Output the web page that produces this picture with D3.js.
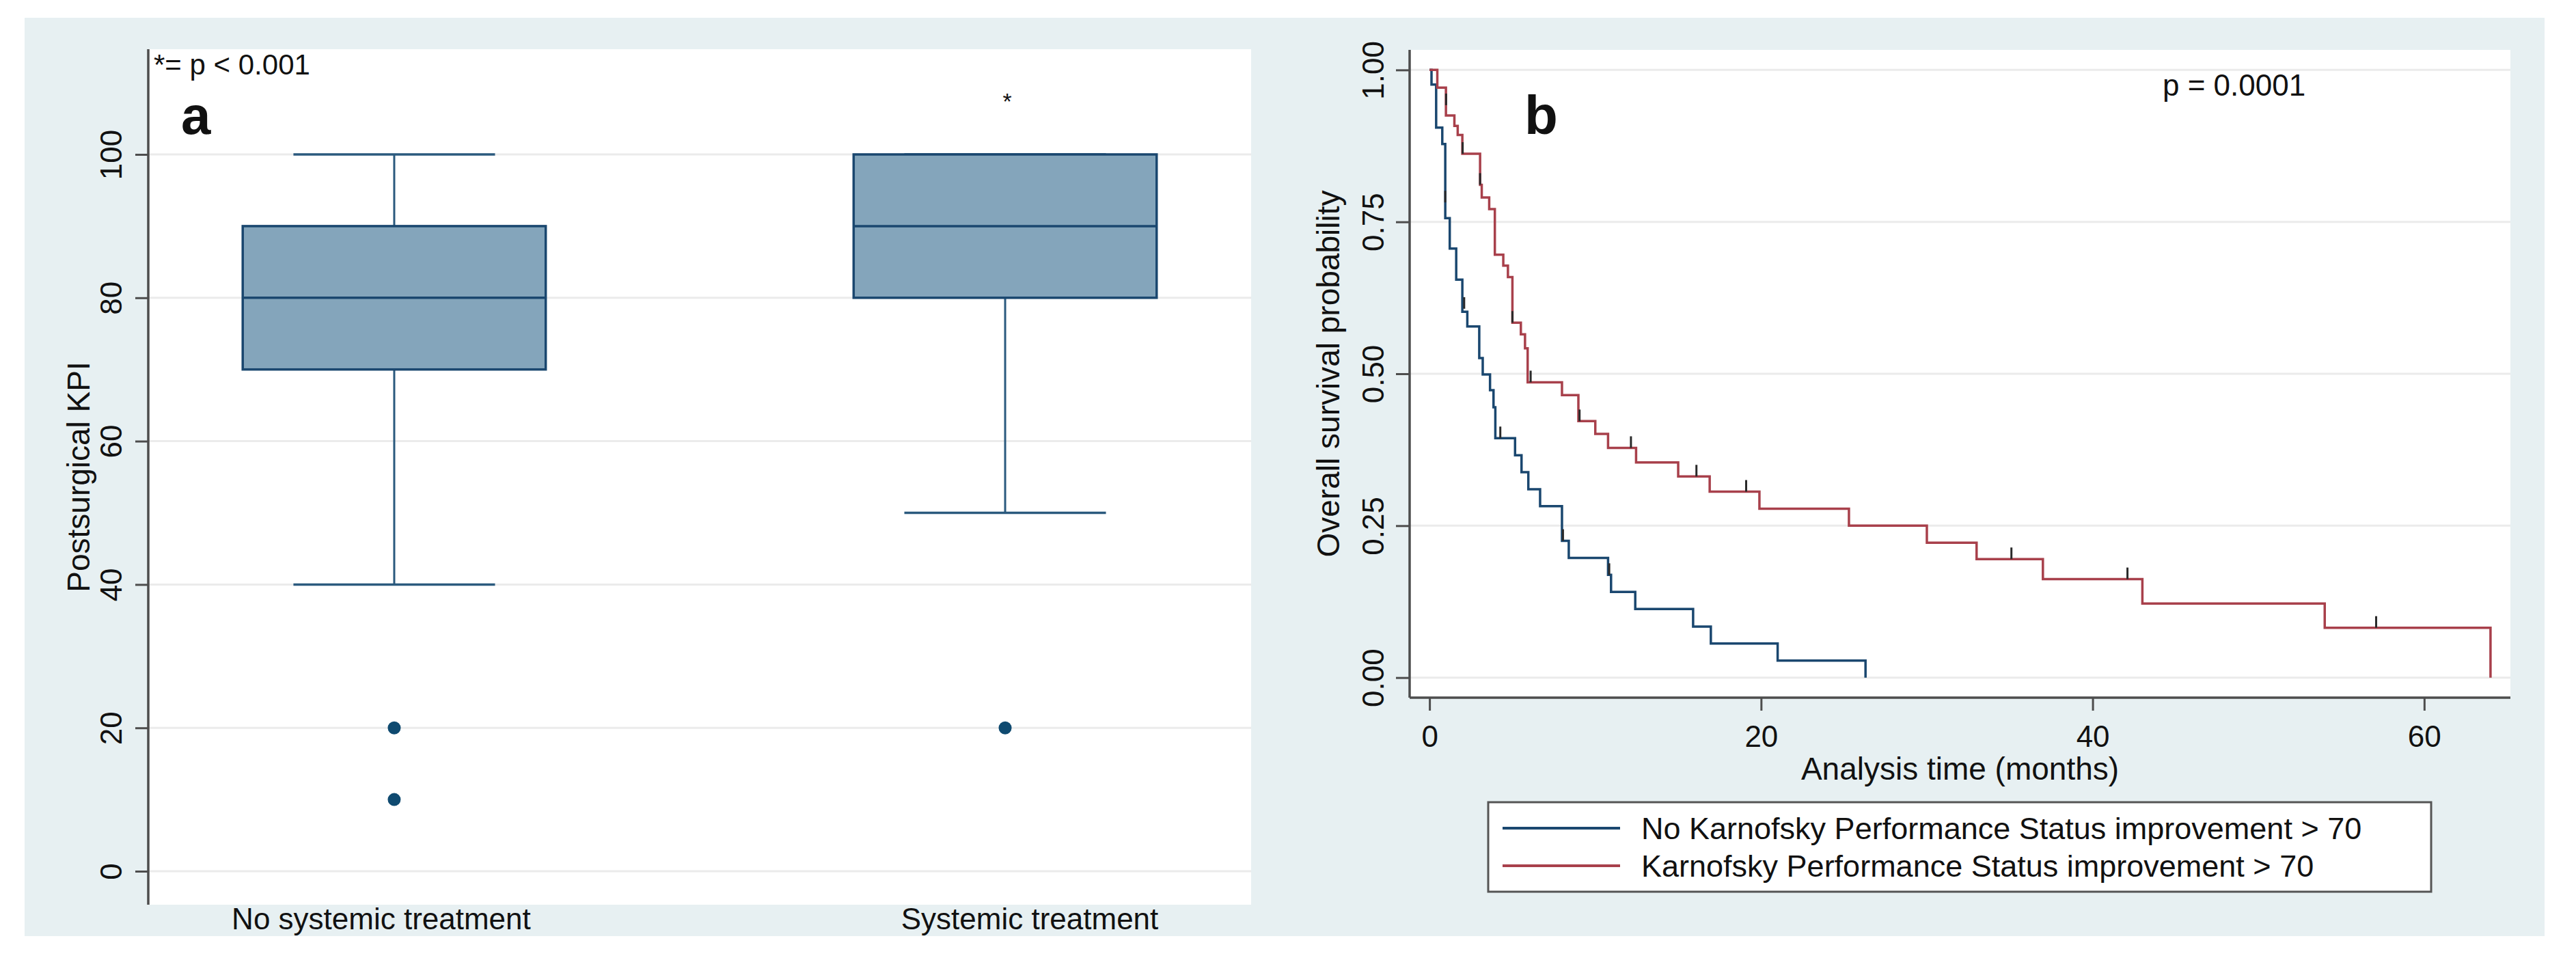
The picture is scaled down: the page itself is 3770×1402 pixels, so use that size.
<!DOCTYPE html>
<html>
<head>
<meta charset="utf-8">
<script src="https://cdnjs.cloudflare.com/ajax/libs/d3/7.8.5/d3.min.js"></script>
<style>
  body { margin: 0; background: #fff; }
  text { font-family: "Liberation Sans", Arial, sans-serif; fill: #111; }
</style>
</head>
<body>
<script>
// ---- panel a: postsurgical KPI box plot ----
const groups = ['No systemic treatment', 'Systemic treatment'];
const whiskerLow = [40, 50];
const quart1 = [70, 80];
const medians = [80, 90];
const quart3 = [90, 100];
const whiskerHigh = [100, 100];
const outliers = [[20, 10], [20]];
const kpiTicks = [0, 20, 40, 60, 80, 100];
const starAt = 108; // significance star above systemic treatment

// ---- panel b: Kaplan-Meier curves ----
const seriesNames = [
  'No Karnofsky Performance Status improvement > 70',
  'Karnofsky Performance Status improvement > 70'
];
const noImpTime = [0, 0.12, 0.4, 0.77, 0.95, 1.22, 1.61, 1.98, 2.28, 3.0, 3.21, 3.65, 3.86, 3.97,
  5.16, 5.55, 5.96, 6.67, 7.99, 8.4, 10.77, 10.95, 12.41, 15.9, 16.97, 21.0, 26.3];
const noImpSurv = [1, 0.976, 0.905, 0.878, 0.756, 0.706, 0.655, 0.602, 0.578, 0.526, 0.499, 0.473, 0.445, 0.394,
  0.366, 0.338, 0.31, 0.282, 0.225, 0.197, 0.169, 0.141, 0.113, 0.084, 0.056, 0.028, 0];
const noImpCensT = [0.95, 2.09, 4.27, 8.05, 10.84];
const noImpCensS = [0.782, 0.607, 0.394, 0.225, 0.169];

const impTime = [0, 0.47, 0.99, 1.5, 1.7, 1.98, 3.05, 3.15, 3.6, 3.94, 4.45, 4.73, 5.0, 5.51, 5.76, 5.92,
  7.99, 8.98, 10.0, 10.77, 12.46, 15.0, 16.9, 19.9, 25.3, 30.0, 33.0, 37.0, 43.0, 54.0, 64.0];
const impSurv = [1, 0.971, 0.925, 0.908, 0.893, 0.862, 0.811, 0.79, 0.771, 0.696, 0.678, 0.659, 0.584, 0.565, 0.542, 0.486,
  0.465, 0.422, 0.401, 0.378, 0.354, 0.331, 0.306, 0.278, 0.25, 0.222, 0.195, 0.162, 0.122, 0.082, 0];
const impCensT = [1.0, 2.0, 3.05, 5.0, 6.1, 9.05, 12.15, 16.1, 19.1, 35.1, 42.1, 57.1];
const impCensS = [0.942, 0.862, 0.811, 0.584, 0.486, 0.422, 0.378, 0.331, 0.306, 0.195, 0.162, 0.082];

const survTicks = [0, 0.25, 0.5, 0.75, 1];
const monthTicks = [0, 20, 40, 60];

const navy = '#1a476f';
const maroon = '#a8404b';
const axisGrey = '#4d4d4d';
const gridGrey = '#ebebeb';

const svg = d3.select('body').append('svg')
  .attr('width', 3770)
  .attr('height', 1402);

svg.append('rect')
  .attr('x', 36).attr('y', 26)
  .attr('width', 3724 - 36).attr('height', 1370 - 26)
  .attr('fill', '#e7f0f2');

// rotate y tick labels the Stata way
function styleLeftAxis(g, dist, fontSize) {
  g.select('.domain').remove();
  g.selectAll('.tick line').attr('stroke', axisGrey).attr('stroke-width', 3);
  g.selectAll('.tick text')
    .attr('transform', 'rotate(-90)')
    .attr('x', 0).attr('y', -dist).attr('dy', 0)
    .attr('text-anchor', 'middle')
    .style('font-size', fontSize + 'px')
    .style('fill', '#111');
}

function drawBoxPanel() {
  const left = 217, right = 1831, top = 72, bottom = 1324;
  const y = d3.scaleLinear().domain([-4.67, 114.68]).range([bottom, top]);
  const x = d3.scalePoint().domain(groups).range([left, right]).padding(0.4026);
  const step = x.step();
  const boxW = step * 0.496;
  const capW = step * 0.33;

  svg.append('rect')
    .attr('x', left).attr('y', top)
    .attr('width', right - left).attr('height', bottom - top)
    .attr('fill', '#fff');

  svg.append('g').selectAll('line')
    .data(kpiTicks)
    .enter()
    .append('line')
    .attr('x1', left).attr('x2', right)
    .attr('y1', d => y(d)).attr('y2', d => y(d))
    .attr('stroke', gridGrey).attr('stroke-width', 3);

  const yAxis = svg.append('g')
    .attr('transform', `translate(${left},0)`)
    .call(d3.axisLeft(y).tickValues(kpiTicks).tickSize(19).tickPadding(0));
  styleLeftAxis(yAxis, 39, 44);

  svg.append('line')
    .attr('x1', left).attr('x2', left)
    .attr('y1', top).attr('y2', bottom)
    .attr('stroke', axisGrey).attr('stroke-width', 3.5);

  const boxes = groups.map((g, i) => ({
    g, lo: whiskerLow[i], q1: quart1[i], med: medians[i], q3: quart3[i], hi: whiskerHigh[i], out: outliers[i]
  }));

  const bg = svg.append('g').selectAll('g')
    .data(boxes)
    .enter()
    .append('g')
    .attr('transform', d => `translate(${x(d.g)},0)`);

  // whiskers
  bg.append('line')
    .attr('x1', 0).attr('x2', 0)
    .attr('y1', d => y(d.q3)).attr('y2', d => y(d.hi))
    .attr('stroke', '#2b5a7e').attr('stroke-width', 3);
  bg.append('line')
    .attr('x1', 0).attr('x2', 0)
    .attr('y1', d => y(d.q1)).attr('y2', d => y(d.lo))
    .attr('stroke', '#2b5a7e').attr('stroke-width', 3);
  bg.append('line')
    .attr('x1', -capW / 2).attr('x2', capW / 2)
    .attr('y1', d => y(d.hi)).attr('y2', d => y(d.hi))
    .attr('stroke', '#2b5a7e').attr('stroke-width', 3.5);
  bg.append('line')
    .attr('x1', -capW / 2).attr('x2', capW / 2)
    .attr('y1', d => y(d.lo)).attr('y2', d => y(d.lo))
    .attr('stroke', '#2b5a7e').attr('stroke-width', 3.5);

  bg.append('rect')
    .attr('x', -boxW / 2).attr('width', boxW)
    .attr('y', d => y(d.q3)).attr('height', d => y(d.q1) - y(d.q3))
    .attr('fill', '#84a5bb').attr('stroke', navy).attr('stroke-width', 3.5);
  bg.append('line')
    .attr('x1', -boxW / 2).attr('x2', boxW / 2)
    .attr('y1', d => y(d.med)).attr('y2', d => y(d.med))
    .attr('stroke', navy).attr('stroke-width', 3.5);

  bg.selectAll('circle')
    .data(d => d.out)
    .enter()
    .append('circle')
    .attr('cx', 0).attr('cy', d => y(d)).attr('r', 9.5)
    .attr('fill', '#0f4a70');

  svg.append('text')
    .attr('x', x(groups[1]) + 3).attr('y', y(starAt) + 18)
    .attr('text-anchor', 'middle')
    .style('font-size', '34px')
    .text('*');

  // category labels sit a little off the box centres in the original
  const labelShift = [-19, 36];
  svg.append('g').selectAll('text')
    .data(groups)
    .enter()
    .append('text')
    .attr('x', (d, i) => x(d) + labelShift[i])
    .attr('y', 1360)
    .attr('text-anchor', 'middle')
    .style('font-size', '44px')
    .text(d => d);

  svg.append('text')
    .attr('transform', `translate(131,${(top + bottom) / 2}) rotate(-90)`)
    .attr('text-anchor', 'middle')
    .style('font-size', '46px')
    .text('Postsurgical KPI');

  svg.append('text')
    .attr('x', 225).attr('y', 109)
    .style('font-size', '42px')
    .text('*= p < 0.001');

  svg.append('text')
    .attr('x', 265).attr('y', 196)
    .style('font-size', '78px').style('font-weight', 'bold')
    .text('a');
}

function drawSurvivalPanel() {
  const left = 2063, right = 3674, top = 73, bottom = 1021;
  const x = d3.scaleLinear().domain([-1.2, 65.2]).range([left, right]);
  const y = d3.scaleLinear().domain([-0.033, 1.033]).range([bottom, top]);

  svg.append('rect')
    .attr('x', left).attr('y', top)
    .attr('width', right - left).attr('height', bottom - top)
    .attr('fill', '#fff');

  svg.append('g').selectAll('line')
    .data(survTicks)
    .enter()
    .append('line')
    .attr('x1', left).attr('x2', right)
    .attr('y1', d => y(d)).attr('y2', d => y(d))
    .attr('stroke', gridGrey).attr('stroke-width', 3);

  const yAxis = svg.append('g')
    .attr('transform', `translate(${left},0)`)
    .call(d3.axisLeft(y).tickValues(survTicks).tickFormat(d3.format('.2f')).tickSize(20).tickPadding(0));
  styleLeftAxis(yAxis, 38, 44);

  const xAxis = svg.append('g')
    .attr('transform', `translate(0,${bottom})`)
    .call(d3.axisBottom(x).tickValues(monthTicks).tickSize(19).tickPadding(12));
  xAxis.select('.domain').remove();
  xAxis.selectAll('.tick line').attr('stroke', axisGrey).attr('stroke-width', 3);
  xAxis.selectAll('.tick text')
    .attr('dy', 0).attr('y', 72)
    .style('font-size', '44px').style('fill', '#111');

  svg.append('line')
    .attr('x1', left).attr('x2', left).attr('y1', top).attr('y2', bottom)
    .attr('stroke', axisGrey).attr('stroke-width', 3.5);
  svg.append('line')
    .attr('x1', left).attr('x2', right).attr('y1', bottom).attr('y2', bottom)
    .attr('stroke', axisGrey).attr('stroke-width', 3.5);

  const curves = [
    { name: seriesNames[0], color: navy, pts: noImpTime.map((t, i) => [t, noImpSurv[i]]),
      cens: noImpCensT.map((t, i) => [t, noImpCensS[i]]) },
    { name: seriesNames[1], color: maroon, pts: impTime.map((t, i) => [t, impSurv[i]]),
      cens: impCensT.map((t, i) => [t, impCensS[i]]) }
  ];

  const line = d3.line()
    .x(d => x(d[0]))
    .y(d => y(d[1]))
    .curve(d3.curveStepAfter);

  svg.append('g').selectAll('path')
    .data(curves)
    .enter()
    .append('path')
    .attr('d', d => line(d.pts))
    .attr('fill', 'none')
    .attr('stroke', d => d.color)
    .attr('stroke-width', 3.5);

  curves.forEach(c => {
    svg.append('g').selectAll('line')
      .data(c.cens)
      .enter()
      .append('line')
      .attr('x1', d => x(d[0])).attr('x2', d => x(d[0]))
      .attr('y1', d => y(d[1])).attr('y2', d => y(d[1]) - 17)
      .attr('stroke', '#2a2a2a').attr('stroke-width', 3);
  });

  svg.append('text')
    .attr('x', (left + right) / 2).attr('y', 1141)
    .attr('text-anchor', 'middle')
    .style('font-size', '46px')
    .text('Analysis time (months)');

  svg.append('text')
    .attr('transform', `translate(1960,${(top + bottom) / 2}) rotate(-90)`)
    .attr('text-anchor', 'middle')
    .style('font-size', '46px')
    .text('Overall survival probability');

  svg.append('text')
    .attr('x', 3165).attr('y', 140)
    .style('font-size', '44px')
    .text('p = 0.0001');

  svg.append('text')
    .attr('x', 2231).attr('y', 196)
    .style('font-size', '80px').style('font-weight', 'bold')
    .text('b');

  // legend
  const lg = svg.append('g');
  lg.append('rect')
    .attr('x', 2178).attr('y', 1174)
    .attr('width', 3558 - 2178).attr('height', 1305 - 1174)
    .attr('fill', '#fff').attr('stroke', '#555').attr('stroke-width', 3);
  const rows = lg.selectAll('g')
    .data(curves)
    .enter()
    .append('g')
    .attr('transform', (d, i) => `translate(2199,${1212 + i * 55})`);
  rows.append('line')
    .attr('x1', 0).attr('x2', 172)
    .attr('stroke', d => d.color).attr('stroke-width', 4);
  rows.append('text')
    .attr('x', 203).attr('y', 16)
    .style('font-size', '45px')
    .text(d => d.name);
}

drawBoxPanel();
drawSurvivalPanel();
</script>
</body>
</html>
